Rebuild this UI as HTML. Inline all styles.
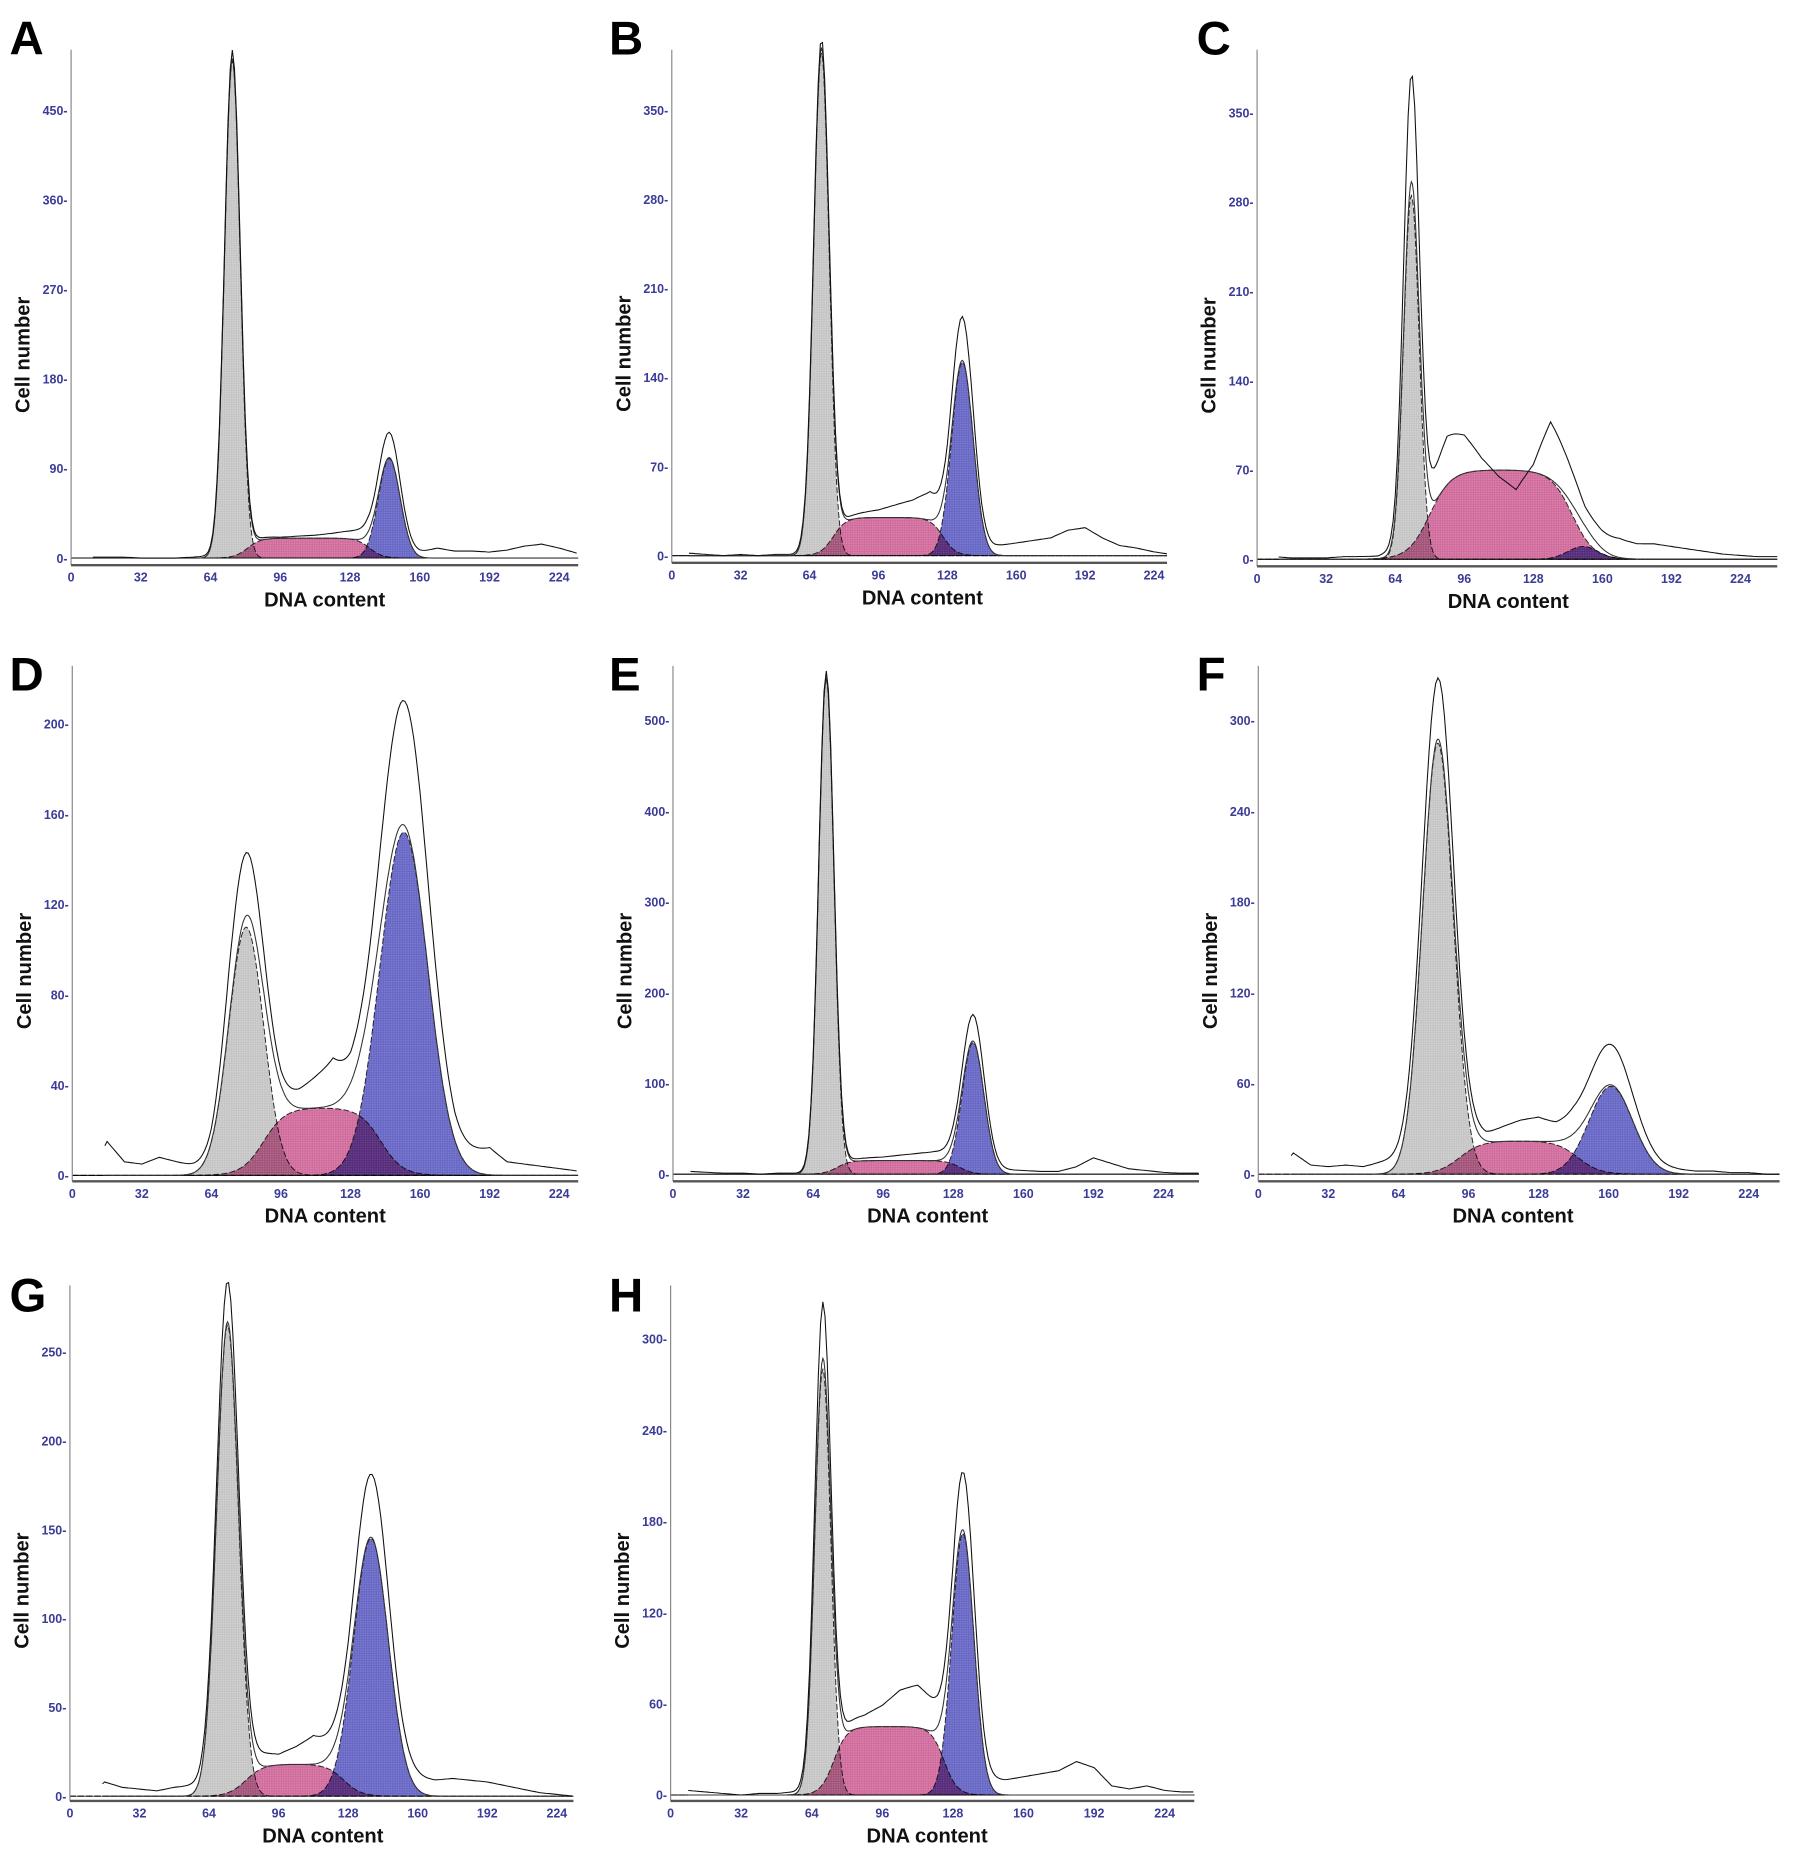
<!DOCTYPE html>
<html><head><meta charset="utf-8"><style>
html,body{margin:0;padding:0;background:#fff}
svg{display:block}
.tick{font-family:"Liberation Sans",sans-serif;font-weight:bold;font-size:10.5px;fill:#3b3b98}
.title{font-family:"Liberation Sans",sans-serif;font-weight:bold;font-size:17px;fill:#111}
.letter{font-family:"Liberation Sans",sans-serif;font-weight:bold;font-size:40px;fill:#000}
</style></head><body>
<svg id="fig" width="1795" height="1859" viewBox="0 0 1515 1569" xmlns="http://www.w3.org/2000/svg"></svg>
<script>
// ---- data (per panel A..H) ----
const letters = ["A","B","C","D","E","F","G","H"];
const yTickStep = [90,70,70,40,100,60,50,60];
const yTickMax = [450,350,350,200,500,300,250,300];
const g1Mean = [74,69.5,71.5,80,70,82,72.5,69];
const g1Sd = [3.6,3.6,3.6,8,3.5,7,5,3.6];
const g1Height = [500,395,285,110,545,285,265,280];
const g1Raw = [505,400,360,130,550,315,280,312];
const g2Mean = [146,135,151,152.5,137,161,138.5,132.5];
const g2Sd = [5,5,7,11,5,10,8,5];
const g2Height = [100,152,10,152,145,58,145,172];
const g2Raw = [120,180,10,195,170,75,170,200];
const sLevel = [20,30,70,30,15,22,18,45];
const sStart = [81,75,80,88,75,92,81,74];
const sEnd = [137,126,146,142,131,146,126,124];
const sEdge = [3,3,5,5,3,5,4,3];
const rawStart = [10,8,10,15,8,15,15,8];
// raw-minus-fit residuals sampled every 8 DNA units (x = 0,8,...,232)
const residA = [0,1,1,1,0,0,0,1,2,4,3,2,1,2,3,5,8,12,6,4,6,10,7,7,6,8,12,14,10,5];
const residB = [0,2,1,0,1,0,1,1,3,2,2,4,6,10,14,22,10,6,5,8,10,12,14,20,22,14,8,6,3,1];
const residC = [0,2,1,1,1,2,2,2,6,10,20,38,30,10,-5,-15,6,45,30,15,14,15,12,12,10,8,6,4,3,2];
const residD = [0,0,15,6,5,8,6,4,3,10,8,6,4,8,14,20,10,8,10,12,14,12,8,10,12,6,5,4,3,2];
const residE = [0,3,2,1,1,0,1,1,2,2,2,3,4,6,8,10,10,4,6,5,4,3,3,8,18,12,6,4,2,1];
const residF = [0,0,14,6,5,6,5,8,10,14,10,12,8,6,10,14,16,12,14,12,10,8,6,4,3,2,2,1,1,0];
const residG = [0,0,8,5,4,3,5,6,6,8,10,8,6,10,16,12,8,10,12,10,10,9,10,9,8,6,4,2,1,0];
const residH = [0,3,2,1,0,1,1,2,4,6,6,8,14,24,28,20,8,12,10,10,12,14,16,22,18,6,4,6,3,2];
const resid = [residA,residB,residC,residD,residE,residF,residG,residH];

// ---- layout (display px in viewBox) ----
const L = [
 {x0:60,x224:472,xe:488,yt:42,ya:477,y0:471,ym:93,lx:8,ly:46},
 {x0:567,x224:974,xe:985,yt:42,ya:475,y0:469,ym:93,lx:514,ly:46},
 {x0:1061,x224:1469,xe:1500,yt:42,ya:478,y0:472,ym:95,lx:1010,ly:46},
 {x0:61,x224:472,xe:488,yt:562,ya:997,y0:992,ym:611,lx:8,ly:583},
 {x0:568,x224:982,xe:1012,yt:562,ya:997,y0:991,ym:608,lx:514,ly:583},
 {x0:1062,x224:1476,xe:1502,yt:562,ya:997,y0:991,ym:608,lx:1010,ly:583},
 {x0:59,x224:470,xe:484,yt:1085,ya:1520,y0:1516,ym:1141,lx:8,ly:1107},
 {x0:566,x224:983,xe:1008,yt:1085,ya:1520,y0:1515,ym:1130,lx:514,ly:1107}
];
const NS="http://www.w3.org/2000/svg";
const svg=document.getElementById('fig');
function mk(tag,attrs,parent){const e=document.createElementNS(NS,tag);for(const k in attrs)e.setAttribute(k,attrs[k]);(parent||svg).appendChild(e);return e;}
function sig(z){return 1/(1+Math.exp(-z));}
function gauss(x,m,s,h){return h*Math.exp(-0.5*((x-m)/s)**2);}

const defs=mk('defs',{});
[['pg','#c4c4c4','#d8d8d8'],['pp','#cf6b9b','#e08cb4'],['pb','#6767c4','#8585d6']].forEach(p=>{
  const pt=mk('pattern',{id:p[0],width:2,height:2,patternUnits:'userSpaceOnUse'},defs);
  mk('rect',{width:2,height:2,fill:p[1]},pt);
  mk('rect',{width:1,height:1,fill:p[2]},pt);
});

for(let i=0;i<8;i++){
  const c=L[i];
  const g=mk('g',{});
  
  
  const xs=v=>c.x0+(v/224)*(c.x224-c.x0);
  const ys=v=>c.y0-(v/yTickMax[i])*(c.y0-c.ym);
  const xMax=(c.xe-c.x0)/(c.x224-c.x0)*224;
  const G1=x=>gauss(x,g1Mean[i],g1Sd[i],g1Height[i]);
  const G2=x=>gauss(x,g2Mean[i],g2Sd[i],g2Height[i]);
  const S=x=>sLevel[i]*sig((x-sStart[i])/sEdge[i])*sig((sEnd[i]-x)/sEdge[i]);
  const res=x=>{const t=x/8,k=Math.floor(t),r=resid[i];const a=r[Math.min(k,29)],b=r[Math.min(k+1,29)];return a+(b-a)*(t-k);};
  function area(f,fill,name){
    let d='M'+xs(0)+','+ys(0);
    for(let x=0;x<=xMax;x+=0.5)d+='L'+xs(x).toFixed(1)+','+ys(f(x)).toFixed(1);
    d+='L'+xs(xMax)+','+ys(0)+'Z';
    const p=mk('path',{d:d,fill:fill,stroke:'#222','stroke-width':0.8,'stroke-dasharray':'5,2','style':'mix-blend-mode:multiply'},g);
    
    
  }
  area(G1,'url(#pg)','g1-peak');
  area(S,'url(#pp)','s-phase');
  area(G2,'url(#pb)','g2-peak');
  let d='';
  for(let x=rawStart[i];x<=xMax;x+=0.5){const v=G1(x)+S(x)+G2(x);d+=(d?'L':'M')+xs(x).toFixed(1)+','+ys(v).toFixed(1);}
  const fl=mk('path',{d:d,fill:'none',stroke:'#333','stroke-width':0.9},g);
  
  
  d='';
  for(let x=rawStart[i];x<=xMax;x+=1){
    const v=gauss(x,g1Mean[i],g1Sd[i],g1Raw[i])+S(x)+gauss(x,g2Mean[i],g2Sd[i],g2Raw[i])+res(x);
    d+=(d?'L':'M')+xs(x).toFixed(1)+','+ys(Math.max(0,v)).toFixed(1);
  }
  const rl=mk('path',{d:d,fill:'none',stroke:'#111','stroke-width':0.9},g);
  
  
  const ya=mk('line',{x1:c.x0,y1:c.yt,x2:c.x0,y2:c.ya,stroke:'#888','stroke-width':1},g);
  
  
  const xa=mk('line',{x1:c.x0,y1:c.ya,x2:c.xe,y2:c.ya,stroke:'#555','stroke-width':2},g);
  
  
  for(let v=0;v<=yTickMax[i];v+=yTickStep[i]){
    const t=mk('text',{x:c.x0-3,y:ys(v)+4,'text-anchor':'end',class:'tick'},g);
    t.textContent=v+'-';
    
    
  }
  for(let v=0;v<=224;v+=32){
    const t=mk('text',{x:xs(v),y:c.ya+14,'text-anchor':'middle',class:'tick'},g);
    t.textContent=v;
    
    
  }
  const xt=mk('text',{x:(c.x0+c.x224)/2+8,y:c.ya+35,'text-anchor':'middle',class:'title'},g);
  xt.textContent='DNA content';
  
  
  const ymid=(c.yt+c.ya)/2+40;
  const yt=mk('text',{x:c.x0-35,y:ymid,'text-anchor':'middle',class:'title',transform:'rotate(-90 '+(c.x0-35)+' '+ymid+')'},g);
  yt.textContent='Cell number';
  
  
  const lt=mk('text',{x:c.lx,y:c.ly,class:'letter'},g);
  lt.textContent=letters[i];
  
  
}
</script>
</body></html>
